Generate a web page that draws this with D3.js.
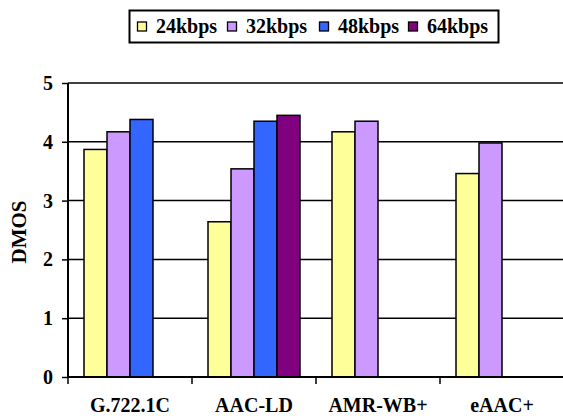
<!DOCTYPE html>
<html>
<head>
<meta charset="utf-8">
<script src="https://cdn.jsdelivr.net/npm/d3@7"></script>
<style>
  html, body { margin: 0; padding: 0; background: #fff; }
  svg { display: block; }
</style>
</head>
<body>
<svg id="chart" width="563" height="418"></svg>
<script>
// Codecs on the x axis and bitrates in the legend
const codecs = ["G.722.1C", "AAC-LD", "AMR-WB+", "eAAC+"];
const bitrates = ["24kbps", "32kbps", "48kbps", "64kbps"];
const colors = ["#FFFF99", "#CC99FF", "#3366FF", "#800080"];

// DMOS scores per bitrate, one entry per codec (null = not tested)
const dmos24 = [3.87, 2.64, 4.17, 3.46];
const dmos32 = [4.17, 3.54, 4.35, 3.98];
const dmos48 = [4.38, 4.35, null, null];
const dmos64 = [null, 4.45, null, null];
const series = [dmos24, dmos32, dmos48, dmos64];

const yTicks = [0, 1, 2, 3, 4, 5];

const FONT = "Liberation Serif";
const svg = d3.select("#chart");
const plotLeft = 68, plotRight = 564;
const plotTop = 83, plotBottom = 377;

const x0 = d3.scaleBand().domain(codecs).range([plotLeft, plotRight]).padding(0);
const x1 = d3.scaleBand().domain(d3.range(bitrates.length))
  .range([0, x0.bandwidth()]).paddingInner(0).paddingOuter(0.696);
const y = d3.scaleLinear().domain([0, 5]).range([plotBottom, plotTop]);

function styleText(sel, size) {
  return sel.attr("font-family", FONT).attr("font-weight", "bold")
    .attr("font-size", size).attr("fill", "#000");
}

// Horizontal gridlines
svg.append("g").selectAll("line").data(yTicks.filter(d => d > 0)).join("line")
  .attr("x1", plotLeft).attr("x2", plotRight)
  .attr("y1", d => y(d)).attr("y2", d => y(d))
  .attr("stroke", "#000").attr("stroke-width", 1.5);

// Bars
const rows = [];
series.forEach((vals, si) => vals.forEach((v, ci) => {
  if (v != null) rows.push({ codec: codecs[ci], s: si, v });
}));
svg.append("g").selectAll("rect").data(rows).join("rect")
  .attr("x", d => x0(d.codec) + x1(d.s))
  .attr("y", d => y(d.v))
  .attr("width", x1.bandwidth())
  .attr("height", d => y(0) - y(d.v))
  .attr("fill", d => colors[d.s])
  .attr("stroke", "#000").attr("stroke-width", 1.5);

// Y axis
const yAxis = svg.append("g").attr("transform", `translate(${plotLeft},0)`)
  .call(d3.axisLeft(y).tickValues(yTicks).tickFormat(d3.format("d")).tickSize(6).tickPadding(9));
yAxis.attr("font-family", FONT);
yAxis.select(".domain").attr("stroke", "#000").attr("stroke-width", 2).attr("d", `M0,${plotTop}V${plotBottom}`);
yAxis.selectAll(".tick line").attr("stroke", "#000").attr("stroke-width", 1.5);
styleText(yAxis.selectAll(".tick text"), 20);

// X axis: ticks at category boundaries, labels centered
const xb = svg.append("g").attr("transform", `translate(0,${plotBottom})`);
xb.append("line").attr("x1", plotLeft).attr("x2", plotRight).attr("stroke", "#000").attr("stroke-width", 2);
xb.selectAll("line.b").data(codecs).join("line").attr("class", "b")
  .attr("x1", d => x0(d)).attr("x2", d => x0(d)).attr("y1", 0).attr("y2", 7)
  .attr("stroke", "#000").attr("stroke-width", 1.5);
styleText(xb.selectAll("text").data(codecs).join("text"), 20)
  .attr("x", d => x0(d) + x0.bandwidth() / 2).attr("y", 35)
  .attr("text-anchor", "middle").text(d => d);

// Y axis title
styleText(svg.append("text"), 21)
  .attr("transform", `translate(26,${(plotTop + plotBottom) / 2 + 2}) rotate(-90)`)
  .attr("text-anchor", "middle").text("DMOS");

// Legend
const lg = svg.append("g");
lg.append("rect").attr("x", 129.5).attr("y", 10.5).attr("width", 369).attr("height", 32)
  .attr("fill", "#fff").attr("stroke", "#000").attr("stroke-width", 2);
const lx = [137, 227, 319, 408];
const items = lg.selectAll("g.item").data(bitrates).join("g").attr("class", "item")
  .attr("transform", (d, i) => `translate(${lx[i]},0)`);
items.append("rect").attr("x", 0.5).attr("y", 22).attr("width", 9).attr("height", 9)
  .attr("fill", (d, i) => colors[i]).attr("stroke", "#000").attr("stroke-width", 1.3);
styleText(items.append("text"), 20).attr("x", 19).attr("y", 33).text(d => d);
</script>
</body>
</html>
